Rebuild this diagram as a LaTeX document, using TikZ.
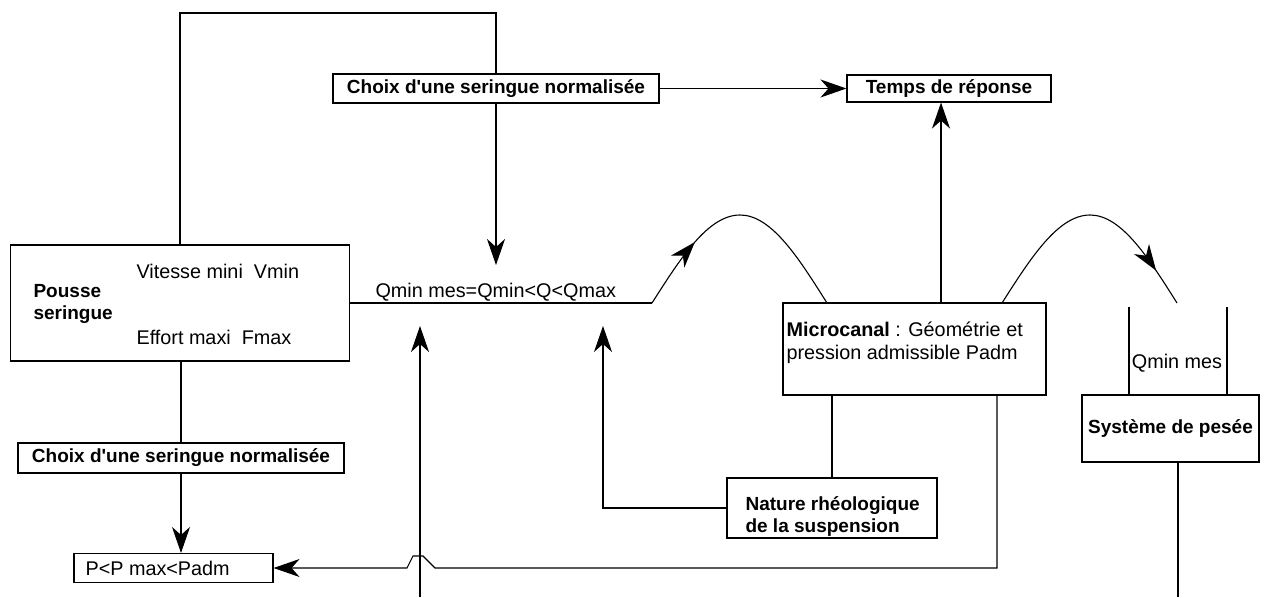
\documentclass[tikz,border=0pt]{standalone}
\usepackage{fontspec}
\setmainfont{Liberation Sans}
\usetikzlibrary{arrows.meta,decorations.markings,calc}
\begin{document}
\begin{tikzpicture}[x=1pt,y=-1pt,
  line width=1.1pt,
  txt/.style={font=\fontsize{19.8}{22.5}\selectfont, inner sep=0pt},
  txtb/.style={font=\fontsize{19}{22}\selectfont\bfseries, inner sep=0pt},
  box/.style={draw, line width=1.1pt, inner sep=0pt},
  myhead/.tip={Stealth[length=26pt,width=18pt,inset=8pt]},
  arr/.style={-myhead},
  midarrow/.style={postaction={decorate}, decoration={markings, mark=at position #1 with {\arrow{myhead}}}}
]
\useasboundingbox (0,0) rectangle (1274,597);

% boxes
\node[box, minimum width=339pt, minimum height=116pt] (pousse) at (180,303) {};
\node[txtb, anchor=west, align=left] (poussetxt) at (33,304) {Pousse\\seringue};
\node[txt, anchor=west] (vmin) at (136,271) {Vitesse mini~~Vmin};
\node[txt, anchor=west] (fmax) at (136,337) {Effort maxi~~Fmax};

\node[box, txtb, minimum width=326pt, minimum height=29pt] (choixA) at (496,88.5) {Choix d\textquotesingle une seringue normalisée};
\node[box, txtb, minimum width=204pt, minimum height=27pt] (temps) at (949,88.5) {Temps de réponse};

\node[box, minimum width=263pt, minimum height=92pt] (micro) at (914.5,349) {};
\node[txt, anchor=west, align=left] (microtxt) at (786,343) {{\bfseries Microcanal}~: Géométrie et\\pression admissible Padm};

\node[box, minimum width=210pt, minimum height=60pt] (nature) at (832,508) {};
\node[txtb, anchor=west, align=left] (naturetxt) at (745,516) {Nature rhéologique\\de la suspension};

\node[box, txtb, minimum width=177pt, minimum height=67pt] (systeme) at (1170.5,428.5) {Système de pesée};

\node[box, txtb, minimum width=326pt, minimum height=30pt] (choixB) at (181,458) {Choix d\textquotesingle une seringue normalisée};
\node[box, minimum width=199pt, minimum height=29pt] (pbox) at (173.5,568) {};
\node[txt, anchor=west] (ptxt) at (85,568) {P<P max<Padm};

\node[txt, anchor=west] (qtxt) at (375,292) {Qmin mes=Qmin<Q<Qmax};
\node[txt] (qmes) at (1177,363) {Qmin mes};

% coordinates
\coordinate (ctop) at (340,13);
\coordinate (qa) at (496,265);
\coordinate (h1s) at (652,303);
\coordinate (h1p) at (740,215);
\coordinate (h1e) at (827,303);
\coordinate (m1) at (941,303);
\coordinate (h2s) at (1002,303);
\coordinate (h2p) at (1090,215);
\coordinate (h2e) at (1177,303);
\coordinate (sL) at (1129,307);
\coordinate (sR) at (1227,307);
\coordinate (mb2) at (997,395);
\coordinate (bumpR) at (435,568);
\coordinate (bumpTR) at (423,556);
\coordinate (bumpTL) at (413,556);
\coordinate (bumpL) at (407,568);
\coordinate (v1b) at (420,597);
\coordinate (v1t) at (420,326);
\coordinate (n1) at (603,326);
\coordinate (sysb) at (1178,597);

% connectors
\draw (pousse.north) |- (ctop) -| (choixA.north);
\draw[arr] (choixA.east) -- (choixA.east -| temps.west);
\draw[arr] (choixA.south) -- (qa);
\draw (pousse.east) -- (h1s);
\draw[midarrow=0.29] (h1s) sin (h1p) cos (h1e);
\draw[arr] (m1) -- (m1 |- temps.south);
\draw[midarrow=0.85] (h2s) sin (h2p) cos (h2e);
\draw (sL) -- (sL |- systeme.north);
\draw (sR) -- (sR |- systeme.north);
\draw (systeme.south -| sysb) -- (sysb);
\draw (micro.south -| nature.north) -- (nature.north);
\draw[arr] (mb2) |- (bumpR) -- (bumpTR) -- (bumpTL) -- (bumpL) -- (pbox.east);
\draw[arr] (nature.west) -| (n1);
\draw[arr] (v1b) -- (v1t);
\draw (pousse.south) -- (choixB.south |- pousse.south) -- (choixB.north);
\draw[arr] (choixB.south) -- (choixB.south |- pbox.north);
\end{tikzpicture}
\end{document}
